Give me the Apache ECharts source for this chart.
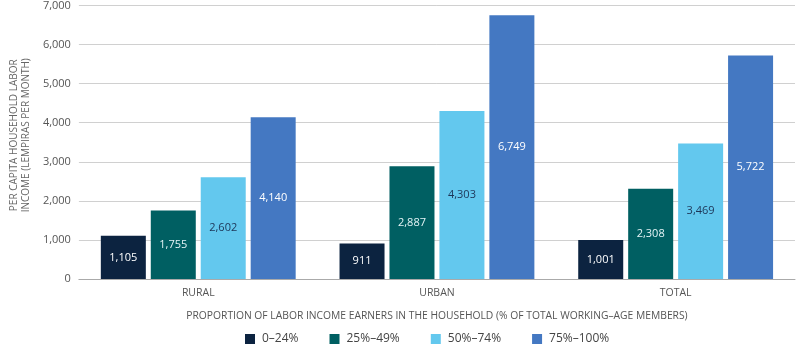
<!DOCTYPE html>
<html>
<head>
<meta charset="utf-8">
<script src="https://cdn.jsdelivr.net/npm/echarts@6/dist/echarts.min.js"></script>
<style>
  html, body { margin: 0; padding: 0; background: #fff; }
  #chart { width: 800px; height: 348px; }
</style>
</head>
<body>
<div id="chart"></div>
<script>
// Household areas on the category axis
const categories = ['RURAL', 'URBAN', 'TOTAL'];

// Share of labor income earners in the household
const seriesNames = ['0–24%', '25%–49%', '50%–74%', '75%–100%'];

// Per capita household labor income (lempiras per month)
const share0to24 = [1105, 911, 1001];
const share25to49 = [1755, 2887, 2308];
const share50to74 = [2602, 4303, 3469];
const share75to100 = [4140, 6749, 5722];

const yTicks = [0, 1000, 2000, 3000, 4000, 5000, 6000, 7000];

const colors = ['#0c2340', '#005f62', '#63c8ee', '#4478c2'];
const labelColors = ['#ffffff', '#e4f4f6', '#1d3557', '#ffffff'];
const values = [share0to24, share25to49, share50to74, share75to100];

const fontFamily = '"Open Sans", "Noto Sans", sans-serif';

const chart = echarts.init(document.getElementById('chart'));
chart.setOption({
  animation: false,
  textStyle: { fontFamily: fontFamily },
  grid: { left: 68, right: 5, top: 5, bottom: 69 },
  legend: {
    top: 333,
    left: 245,
    padding: 0,
    itemWidth: 10,
    itemHeight: 10,
    itemGap: 31,
    icon: 'rect',
    textStyle: { color: '#444', fontSize: 12, padding: [0, 0, 0, 2], fontFamily: fontFamily },
    data: seriesNames
  },
  xAxis: {
    type: 'category',
    data: categories,
    name: 'PROPORTION OF LABOR INCOME EARNERS IN THE HOUSEHOLD (% OF TOTAL WORKING–AGE MEMBERS)',
    nameLocation: 'middle',
    nameGap: 32,
    nameTextStyle: { color: '#555', fontSize: 10.3, fontFamily: fontFamily },
    axisLine: { lineStyle: { color: '#aaa' } },
    axisTick: { show: false },
    axisLabel: { color: '#555', fontSize: 10.5, margin: 9 }
  },
  yAxis: {
    type: 'value',
    min: yTicks[0],
    max: yTicks[yTicks.length - 1],
    interval: yTicks[1] - yTicks[0],
    name: 'PER CAPITA HOUSEHOLD LABOR\nINCOME (LEMPIRAS PER MONTH)',
    nameLocation: 'middle',
    nameGap: 46,
    nameTextStyle: {
      color: '#666',
      fontSize: 10,
      lineHeight: 12,
      padding: [0, 0, 0, 14],
      fontFamily: fontFamily
    },
    axisLabel: {
      color: '#555',
      fontSize: 11,
      margin: 8,
      formatter: v => v.toLocaleString('en-US')
    },
    splitLine: { lineStyle: { color: '#d0d0d0' } }
  },
  series: seriesNames.map((name, i) => ({
    name: name,
    type: 'bar',
    data: values[i],
    barWidth: 45,
    barGap: '11%',
    itemStyle: { color: colors[i] },
    label: {
      show: true,
      position: 'inside',
      color: labelColors[i],
      fontSize: 11,
      fontFamily: fontFamily,
      formatter: p => p.value.toLocaleString('en-US')
    }
  }))
});
</script>
</body>
</html>
